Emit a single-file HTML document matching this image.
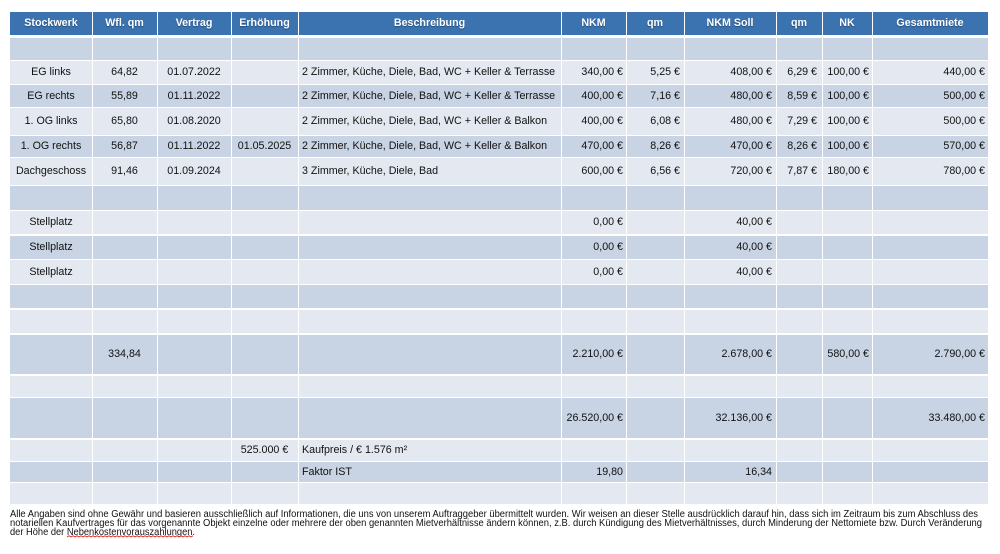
<!DOCTYPE html>
<html><head><meta charset="utf-8">
<style>
*{margin:0;padding:0;box-sizing:border-box}
html,body{width:1000px;height:554px;background:#fff;overflow:hidden}
body{position:relative;font-family:"Liberation Sans",Arial,sans-serif;font-size:10.7px;color:#111}
.r{position:absolute;left:10px;width:978px}
.h{background:#3b72b0;color:#fff;font-weight:bold;text-shadow:0 1px 1px rgba(0,0,0,.35)}
.dk{background:#c8d3e3}
.lt{background:#e3e8f1}
.r span{position:absolute;top:0;height:100%;white-space:nowrap}
.a{left:0;width:82px;text-align:center}
.b{left:82px;width:65px;text-align:center}
.c{left:147px;width:74px;text-align:center}
.d{left:221px;width:67px;text-align:center}
.e{left:288px;width:263px;text-align:left;padding-left:4px}
.f{left:551px;width:65px;text-align:right;padding-right:3px}
.g{left:616px;width:58px;text-align:right;padding-right:4px}
.hh{left:674px;width:92px;text-align:right;padding-right:4px}
.i{left:766px;width:46px;text-align:right;padding-right:5px}
.j{left:812px;width:50px;text-align:right;padding-right:3px}
.k{left:862px;width:116px;text-align:right;padding-right:3px}
.h span{text-align:center!important;padding:0!important}
.v{position:absolute;top:12px;height:492px;width:1px;background:#fff}
svg.ft{position:absolute;left:0;top:500px}
</style></head><body>

<div class="r h" style="top:12px;height:23px;line-height:23px">
<span class="a">Stockwerk</span><span class="b">Wfl. qm</span><span class="c">Vertrag</span><span class="d">Erhöhung</span><span class="e">Beschreibung</span><span class="f">NKM</span><span class="g">qm</span><span class="hh">NKM Soll</span><span class="i">qm</span><span class="j">NK</span><span class="k">Gesamtmiete</span>
</div>

<div class="r dk" style="top:38px;height:22px;line-height:22px"></div>

<div class="r lt" style="top:61px;height:23px;line-height:23px">
<span class="a">EG links</span><span class="b">64,82</span><span class="c">01.07.2022</span><span class="e">2 Zimmer, Küche, Diele, Bad, WC + Keller &amp; Terrasse</span><span class="f">340,00 €</span><span class="g">5,25 €</span><span class="hh">408,00 €</span><span class="i">6,29 €</span><span class="j">100,00 €</span><span class="k">440,00 €</span>
</div>

<div class="r dk" style="top:85px;height:22px;line-height:22px">
<span class="a">EG rechts</span><span class="b">55,89</span><span class="c">01.11.2022</span><span class="e">2 Zimmer, Küche, Diele, Bad, WC + Keller &amp; Terrasse</span><span class="f">400,00 €</span><span class="g">7,16 €</span><span class="hh">480,00 €</span><span class="i">8,59 €</span><span class="j">100,00 €</span><span class="k">500,00 €</span>
</div>

<div class="r lt" style="top:108px;height:27px;line-height:27px">
<span class="a">1. OG links</span><span class="b">65,80</span><span class="c">01.08.2020</span><span class="e">2 Zimmer, Küche, Diele, Bad, WC + Keller &amp; Balkon</span><span class="f">400,00 €</span><span class="g">6,08 €</span><span class="hh">480,00 €</span><span class="i">7,29 €</span><span class="j">100,00 €</span><span class="k">500,00 €</span>
</div>

<div class="r dk" style="top:136px;height:21px;line-height:21px">
<span class="a">1. OG rechts</span><span class="b">56,87</span><span class="c">01.11.2022</span><span class="d">01.05.2025</span><span class="e">2 Zimmer, Küche, Diele, Bad, WC + Keller &amp; Balkon</span><span class="f">470,00 €</span><span class="g">8,26 €</span><span class="hh">470,00 €</span><span class="i">8,26 €</span><span class="j">100,00 €</span><span class="k">570,00 €</span>
</div>

<div class="r lt" style="top:158px;height:27px;line-height:27px">
<span class="a">Dachgeschoss</span><span class="b">91,46</span><span class="c">01.09.2024</span><span class="e">3 Zimmer, Küche, Diele, Bad</span><span class="f">600,00 €</span><span class="g">6,56 €</span><span class="hh">720,00 €</span><span class="i">7,87 €</span><span class="j">180,00 €</span><span class="k">780,00 €</span>
</div>

<div class="r dk" style="top:186px;height:24px;line-height:24px"></div>

<div class="r lt" style="top:211px;height:23px;line-height:23px">
<span class="a">Stellplatz</span><span class="f">0,00 €</span><span class="hh">40,00 €</span>
</div>

<div class="r dk" style="top:236px;height:23px;line-height:23px">
<span class="a">Stellplatz</span><span class="f">0,00 €</span><span class="hh">40,00 €</span>
</div>

<div class="r lt" style="top:260px;height:24px;line-height:24px">
<span class="a">Stellplatz</span><span class="f">0,00 €</span><span class="hh">40,00 €</span>
</div>

<div class="r dk" style="top:285px;height:23px;line-height:23px"></div>
<div class="r lt" style="top:310px;height:23px;line-height:23px"></div>

<div class="r dk" style="top:335px;height:39px;line-height:39px">
<span class="b">334,84</span><span class="f">2.210,00 €</span><span class="hh">2.678,00 €</span><span class="j">580,00 €</span><span class="k">2.790,00 €</span>
</div>

<div class="r lt" style="top:376px;height:21px;line-height:21px"></div>

<div class="r dk" style="top:398px;height:40px;line-height:40px">
<span class="f">26.520,00 €</span><span class="hh">32.136,00 €</span><span class="k">33.480,00 €</span>
</div>

<div class="r lt" style="top:440px;height:21px;line-height:21px">
<span class="d">525.000 €</span><span class="e">Kaufpreis / € 1.576 m²</span>
</div>

<div class="r dk" style="top:462px;height:20px;line-height:20px">
<span class="e">Faktor IST</span><span class="f">19,80</span><span class="hh">16,34</span>
</div>

<div class="r lt" style="top:483px;height:21px;line-height:21px"></div>

<div class="v" style="left:92px"></div>
<div class="v" style="left:157px"></div>
<div class="v" style="left:231px"></div>
<div class="v" style="left:298px"></div>
<div class="v" style="left:561px"></div>
<div class="v" style="left:626px"></div>
<div class="v" style="left:684px"></div>
<div class="v" style="left:776px"></div>
<div class="v" style="left:822px"></div>
<div class="v" style="left:872px"></div>

<svg class="ft" width="1000" height="54" viewBox="0 500 1000 54" xmlns="http://www.w3.org/2000/svg">
<g font-family="Liberation Sans, Arial, sans-serif" font-size="10" fill="#111">
<text x="10" y="517" textLength="968" lengthAdjust="spacingAndGlyphs">Alle Angaben sind ohne Gewähr und basieren ausschließlich auf Informationen, die uns von unserem Auftraggeber übermittelt wurden. Wir weisen an dieser Stelle ausdrücklich darauf hin, dass sich im Zeitraum bis zum Abschluss des</text>
<text x="10" y="526" textLength="972" lengthAdjust="spacingAndGlyphs">notariellen Kaufvertrages für das vorgenannte Objekt einzelne oder mehrere der oben genannten Mietverhältnisse ändern können, z.B. durch Kündigung des Mietverhältnisses, durch Minderung der Nettomiete bzw. Durch Veränderung</text>
<text x="10" y="535" textLength="185" lengthAdjust="spacingAndGlyphs">der Höhe der Nebenkostenvorauszahlungen.</text>
</g>
<path d="M67 537 l2 -1.2 l2 1.2 l2 -1.2 l2 1.2 l2 -1.2 l2 1.2 l2 -1.2 l2 1.2 l2 -1.2 l2 1.2 l2 -1.2 l2 1.2 l2 -1.2 l2 1.2 l2 -1.2 l2 1.2 l2 -1.2 l2 1.2 l2 -1.2 l2 1.2 l2 -1.2 l2 1.2 l2 -1.2 l2 1.2 l2 -1.2 l2 1.2 l2 -1.2 l2 1.2 l2 -1.2 l2 1.2 l2 -1.2 l2 1.2 l2 -1.2 l2 1.2 l2 -1.2 l2 1.2 l2 -1.2 l2 1.2 l2 -1.2 l2 1.2 l2 -1.2 l2 1.2 l2 -1.2 l2 1.2 l2 -1.2 l2 1.2 l2 -1.2 l2 1.2 l2 -1.2 l2 1.2 l2 -1.2 l2 1.2 l2 -1.2 l2 1.2 l2 -1.2 l2 1.2 l2 -1.2 l2 1.2 l2 -1.2 l2 1.2 l2 -1.2 l2 1.2 l2 -1.2" fill="none" stroke="#e02020" stroke-width="0.9"/>
</svg>

</body></html>
